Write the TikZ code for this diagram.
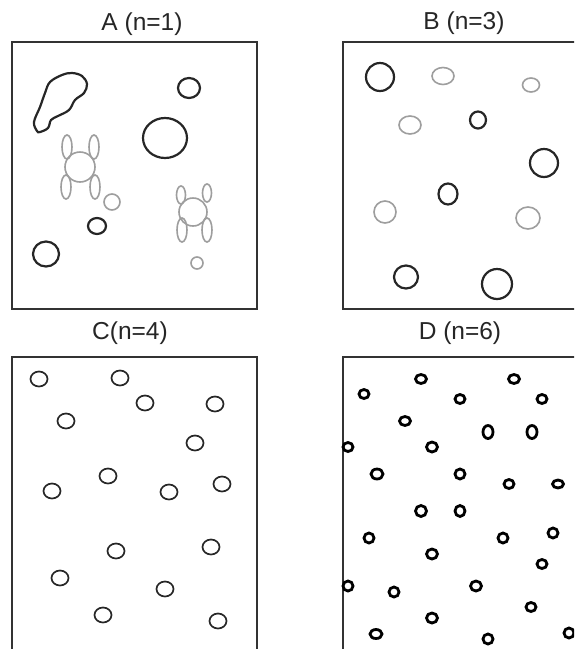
\documentclass[tikz,border=0pt]{standalone}
\usepackage{fontspec}
\setmainfont{Liberation Sans}

\begin{document}
\begin{tikzpicture}[x=1pt,y=-1pt]
			\tikzstyle{frame}=[draw=black!80, line width=2.2pt]
			\tikzstyle{title}=[inner sep=0pt, text=black!85, font=\fontsize{24.5}{24.5}\selectfont]
			\tikzstyle{dark}=[draw=black!85, line width=2.2pt]
			\tikzstyle{pale}=[draw=black!38, line width=1.6pt]
			\tikzstyle{ring}=[draw=black!85, line width=1.7pt]
			\tikzstyle{dot}=[draw=black, line width=2.8pt]
			\clip (0,0) rectangle (574,649);
			\fill [white] (0,0) rectangle (574,649);
			% panel A
			\node [title] (titleA) at (142,24) {A (n=1)};
			\draw [frame] (12,42) rectangle (257,309);
			\draw [dark] plot [smooth cycle, tension=0.6] coordinates {(37,131) (34,122) (40,107) (45,93) (50,82) (62,75) (72,73) (82,76) (87,84) (84,93) (75,100) (69,110) (58,116) (51,120) (48,128) (40,132)};
			\draw [dark] (189,88) ellipse (11 and 10);
			\draw [dark] (165,138) ellipse (22 and 20);
			\draw [pale] (80,167) circle (15);
			\draw [pale] (67,147) ellipse (5 and 12);
			\draw [pale] (94,147) ellipse (5 and 12);
			\draw [pale] (66,187) ellipse (5 and 12);
			\draw [pale] (95,187) ellipse (5 and 12);
			\draw [pale] (112,202) circle (8);
			\draw [dark] (97,226) ellipse (9 and 8);
			\draw [dark] (46,254) ellipse (13 and 12.5);
			\draw [pale] (193,212) circle (14);
			\draw [pale] (181,195) ellipse (4.5 and 9);
			\draw [pale] (207,193) ellipse (4.5 and 9);
			\draw [pale] (182,230) ellipse (5 and 12);
			\draw [pale] (207,230) ellipse (5 and 12);
			\draw [pale] (197,263) circle (6);
			% panel B
			\node [title] (titleB) at (464,23) {B (n=3)};
			\draw [frame] (343,42) rectangle (590,309);
			\draw [dark] (380,77) circle (14);
			\draw [pale] (443,76) ellipse (11 and 8.5);
			\draw [pale] (531,85) ellipse (8.5 and 7);
			\draw [pale] (410,125) ellipse (11 and 9);
			\draw [dark] (478,120) ellipse (8 and 8.5);
			\draw [dark] (544,163) circle (14);
			\draw [dark] (448,194) ellipse (9.5 and 10.5);
			\draw [pale] (385,212) circle (11);
			\draw [pale] (528,218) ellipse (12 and 11);
			\draw [dark] (406,277) ellipse (12 and 11.5);
			\draw [dark] (497,284) circle (15);
			% panel C
			\node [title] (titleC) at (130,333) {C(n=4)};
			\draw [frame] (12,357) rectangle (257,665);
			\draw [ring] (39,379) ellipse (8.5 and 7.5);
			\draw [ring] (120,378) ellipse (8.5 and 7.5);
			\draw [ring] (145,403) ellipse (8.5 and 7.5);
			\draw [ring] (215,404) ellipse (8.5 and 7.5);
			\draw [ring] (66,421) ellipse (8.5 and 7.5);
			\draw [ring] (195,443) ellipse (8.5 and 7.5);
			\draw [ring] (108,476) ellipse (8.5 and 7.5);
			\draw [ring] (52,491) ellipse (8.5 and 7.5);
			\draw [ring] (169,492) ellipse (8.5 and 7.5);
			\draw [ring] (222,484) ellipse (8.5 and 7.5);
			\draw [ring] (116,551) ellipse (8.5 and 7.5);
			\draw [ring] (211,547) ellipse (8.5 and 7.5);
			\draw [ring] (60,578) ellipse (8.5 and 7.5);
			\draw [ring] (165,589) ellipse (8.5 and 7.5);
			\draw [ring] (103,615) ellipse (8.5 and 7.5);
			\draw [ring] (218,621) ellipse (8.5 and 7.5);
			% panel D
			\node [title] (titleD) at (460,333) {D (n=6)};
			\draw [frame] (343,357) rectangle (590,665);
			\draw [dot] (421,379) ellipse (5.5 and 4.5);
			\draw [dot] (514,379) ellipse (5.5 and 4.5);
			\draw [dot] (364,394) ellipse (5 and 4.5);
			\draw [dot] (460,399) ellipse (5 and 4.5);
			\draw [dot] (542,399) ellipse (5 and 4.5);
			\draw [dot] (405,421) ellipse (5.5 and 4.5);
			\draw [dot] (488,432) ellipse (5 and 6.5);
			\draw [dot] (532,432) ellipse (5 and 6.5);
			\draw [dot] (348,447) ellipse (5 and 4.5);
			\draw [dot] (432,447) ellipse (5.5 and 5);
			\draw [dot] (377,474) ellipse (6 and 5);
			\draw [dot] (460,474) ellipse (5 and 5);
			\draw [dot] (509,484) ellipse (5 and 4.5);
			\draw [dot] (558,484) ellipse (5.5 and 4);
			\draw [dot] (421,511) ellipse (5.5 and 5.5);
			\draw [dot] (460,511) ellipse (5 and 5.5);
			\draw [dot] (369,538) ellipse (5 and 5);
			\draw [dot] (503,538) ellipse (5 and 5);
			\draw [dot] (553,533) ellipse (5 and 5);
			\draw [dot] (432,554) ellipse (5.5 and 5);
			\draw [dot] (542,564) ellipse (5 and 4.5);
			\draw [dot] (348,586) ellipse (5 and 5);
			\draw [dot] (394,592) ellipse (5 and 5);
			\draw [dot] (476,586) ellipse (5.5 and 5);
			\draw [dot] (531,607) ellipse (5 and 4.5);
			\draw [dot] (432,618) ellipse (5.5 and 5);
			\draw [dot] (376,634) ellipse (6 and 4.5);
			\draw [dot] (488,639) ellipse (5 and 5);
			\draw [dot] (569,633) ellipse (5 and 5);
\end{tikzpicture}
\end{document}
